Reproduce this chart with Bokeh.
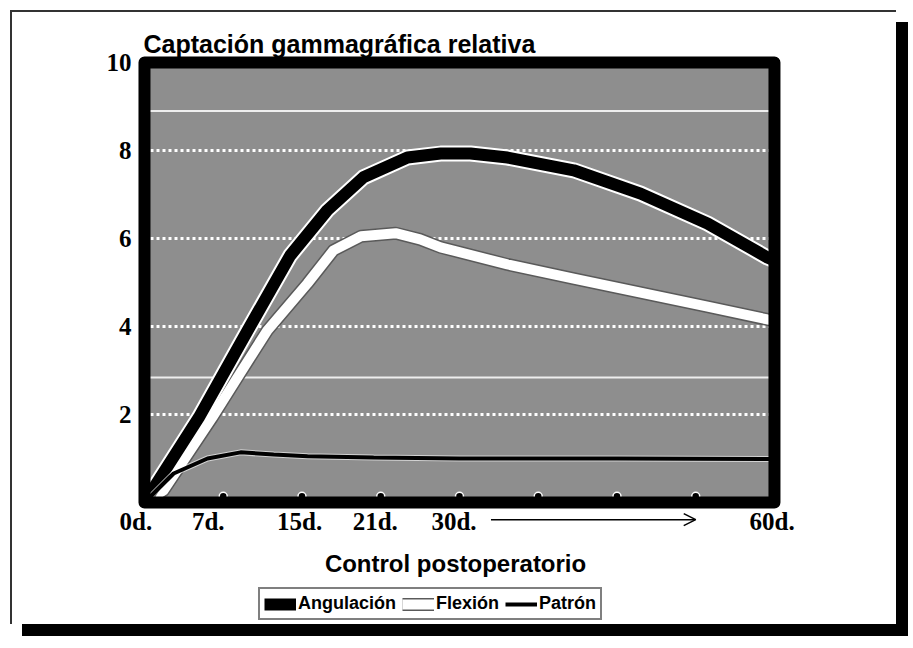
from bokeh.plotting import figure
from bokeh.models import Range1d, Arrow, OpenHead, Legend, LegendItem, Span
from bokeh.core.properties import value
from bokeh.embed import file_html
from bokeh.resources import INLINE

# ---------------- data ----------------
title_text = "Captación gammagráfica relativa"
x_title = "Control postoperatorio"

tick_days = ["0d.", "7d.", "15d.", "21d.", "30d.", "60d."]
tick_pos = [-0.11, 0.81, 1.97, 2.93, 3.93, 7.97]
minor_ticks = [1, 2, 3, 4, 5, 6, 7]
y_ticks = [2, 4, 6, 8, 10]
y_tick_labels = ["2", "4", "6", "8", "10"]

ang_x = [0, 0.69, 1.31, 1.85, 2.32, 2.78, 3.34, 3.76, 4.14, 4.61, 5.45, 6.30, 7.15, 7.91, 8.0]
ang_y = [0, 1.93, 3.91, 5.61, 6.64, 7.39, 7.84, 7.93, 7.93, 7.84, 7.55, 7.02, 6.34, 5.57, 5.50]

flex_x = [0, 0.24, 0.86, 1.18, 1.56, 2.07, 2.40, 2.75, 3.19, 3.50, 3.76, 4.61, 5.45, 6.30, 7.15, 7.91, 8.0]
flex_y = [0, 0.27, 1.93, 2.84, 3.91, 4.98, 5.73, 6.05, 6.12, 5.98, 5.80, 5.41, 5.09, 4.77, 4.45, 4.16, 4.14]

pat_x = [0, 0.37, 0.80, 1.22, 1.64, 2.07, 2.91, 4.0, 6.0, 8.0]
pat_y = [0, 0.66, 1.00, 1.14, 1.09, 1.05, 1.02, 1.00, 1.00, 0.99]

series_names = ["Angulación", "Flexión", "Patrón"]

x_lo, x_hi = 0, 8
y_lo, y_hi = 0, 10

# ---------------- styling ----------------
SANS = "Liberation Sans, Arial, sans-serif"
SERIF = "Liberation Serif, Times New Roman, serif"

W, H = 886, 614
p = figure(width=W, height=H, output_backend="svg", toolbar_location=None,
           x_range=Range1d(-1.676, 9.575), y_range=Range1d(-2.818, 11.136),
           x_axis_location=None, y_axis_location=None, min_border=0)
p.styles = {"margin-left": "10px", "margin-top": "10px",
            "border-left": "2px solid #333", "border-top": "2px solid #333",
            "box-shadow": "12px 12px 0px 0px #000"}
p.background_fill_color = "white"
p.border_fill_color = "white"
p.outline_line_color = None
p.grid.visible = False

# panel background (below the grid lines)
p.quad(left=[x_lo], right=[x_hi], bottom=[y_lo], top=[y_hi],
       fill_color="#8e8e8e", line_color=None, level="image")

# dotted white grid at the y ticks
for yy in y_ticks[:-1]:
    p.add_layout(Span(location=yy, dimension="width", line_color="white",
                      line_width=3, line_dash="3 3", level="underlay"))
# white bands of the textured background
for yy in [8.9, 2.84]:
    p.add_layout(Span(location=yy, dimension="width", line_color="white",
                      line_width=2, line_alpha=0.85, level="underlay"))

# curves
flex_edge = p.line(flex_x, flex_y, line_color="#5a5a5a", line_width=13, line_join="round")
flex = p.line(flex_x, flex_y, line_color="white", line_width=10, line_join="round")
ang_halo = p.line(ang_x, ang_y, line_color="white", line_width=16, line_join="round")
ang = p.line(ang_x, ang_y, line_color="black", line_width=12, line_join="round")
pat_halo = p.line(pat_x, pat_y, line_color="white", line_width=6, line_alpha=0.6)
pat = p.line(pat_x, pat_y, line_color="black", line_width=4)

# small tick bumps on the inner bottom edge
p.scatter(x=minor_ticks, y=[y_lo + 0.14] * len(minor_ticks), marker="circle", size=8,
          fill_color="black", line_color="white", line_width=1.5)

# thick black frame around the panel
p.quad(left=[x_lo], right=[x_hi], bottom=[y_lo], top=[y_hi],
       fill_color=None, line_color="black", line_width=12, line_join="round")

# tick labels
p.text(x=[-0.165] * len(y_ticks), y=y_ticks, text=y_tick_labels,
       text_font=value(SERIF), text_font_size="25px", text_font_style="bold",
       text_color="black", text_align="right", text_baseline="middle")
p.text(x=tick_pos, y=[-0.43] * len(tick_pos), text=tick_days,
       text_font=value(SERIF), text_font_size="25px", text_font_style="bold",
       text_color="black", text_align="center", text_baseline="middle")

# titles
p.text(x=[-0.013], y=[10.43], text=[title_text], text_font=value(SANS),
       text_font_size="25px", text_font_style="bold", text_color="black",
       text_align="left", text_baseline="alphabetic")
p.text(x=[3.95], y=[-1.38], text=[x_title], text_font=value(SANS),
       text_font_size="24px", text_font_style="bold", text_color="black",
       text_align="center", text_baseline="alphabetic")

# arrow between 30d. and 60d.
p.add_layout(Arrow(end=OpenHead(size=12, line_width=1.5), x_start=4.4, y_start=-0.39,
                   x_end=7.0, y_end=-0.39, line_width=1.5, line_color="black"))

legend = Legend(items=[LegendItem(label=series_names[0], renderers=[ang]),
                       LegendItem(label=series_names[1], renderers=[flex_edge, flex]),
                       LegendItem(label=series_names[2], renderers=[pat])],
                orientation="horizontal", location=(246, 6),
                border_line_color="black", border_line_width=2,
                background_fill_color="white", background_fill_alpha=1,
                label_text_font=SANS, label_text_font_size="18px",
                label_text_font_style="bold", label_text_color="black",
                glyph_width=32, glyph_height=20, spacing=6,
                padding=4, margin=0, label_standoff=2)
p.add_layout(legend)

open("out.html", "w").write(file_html(p, INLINE))
